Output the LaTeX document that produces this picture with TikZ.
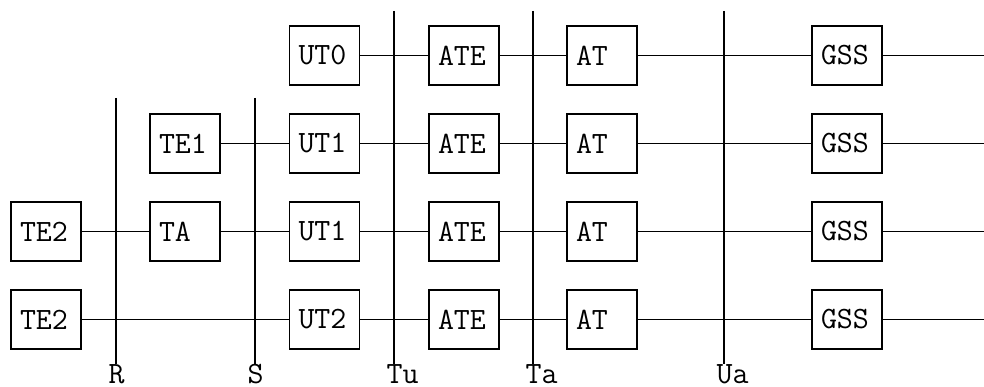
\documentclass[tikz,border=0pt]{standalone}
\usepackage{fontspec}
\begin{document}
\begin{tikzpicture}[x=1pt,y=-1pt,line width=1.3pt,
  blk/.style={draw,rectangle,minimum width=70pt,minimum height=59pt,text width=52pt,inner xsep=9pt,inner ysep=0pt,align=left,font=\ttfamily\fontsize{31}{33}\selectfont},
  lbl/.style={anchor=base west,inner sep=0pt,font=\ttfamily\fontsize{31}{33}\selectfont}]
\useasboundingbox (0,0) rectangle (984,387);
% columns: 46, 185, 324.5, 464, 602, 847 ; rows 55.5, 143.5, 231.5, 319.5
\node[blk] (ut0) at (324.5,55.5) {UT0};
\node[blk] (ate0) at (464,55.5) {ATE};
\node[blk] (at0) at (602,55.5) {AT};
\node[blk] (gss0) at (847,55.5) {GSS};
\coordinate (e0) at (984,55.5);

\node[blk] (te1) at (185,143.5) {TE1};
\node[blk] (ut1) at (324.5,143.5) {UT1};
\node[blk] (ate1) at (464,143.5) {ATE};
\node[blk] (at1) at (602,143.5) {AT};
\node[blk] (gss1) at (847,143.5) {GSS};
\coordinate (e1) at (984,143.5);

\node[blk] (te2a) at (46,231.5) {TE2};
\node[blk] (ta) at (185,231.5) {TA};
\node[blk] (ut1b) at (324.5,231.5) {UT1};
\node[blk] (ate2) at (464,231.5) {ATE};
\node[blk] (at2) at (602,231.5) {AT};
\node[blk] (gss2) at (847,231.5) {GSS};
\coordinate (e2) at (984,231.5);

\node[blk] (te2b) at (46,319.5) {TE2};
\node[blk] (ut2) at (324.5,319.5) {UT2};
\node[blk] (ate3) at (464,319.5) {ATE};
\node[blk] (at3) at (602,319.5) {AT};
\node[blk] (gss3) at (847,319.5) {GSS};
\coordinate (e3) at (984,319.5);

\draw (ut0) -- (ate0) -- (at0) -- (gss0) -- (e0);
\draw (te1) -- (ut1) -- (ate1) -- (at1) -- (gss1) -- (e1);
\draw (te2a) -- (ta) -- (ut1b) -- (ate2) -- (at2) -- (gss2) -- (e2);
\draw (te2b) -- (ut2) -- (ate3) -- (at3) -- (gss3) -- (e3);

% reference lines
\coordinate (rT) at (116,98); \coordinate (rB) at (116,364);
\coordinate (sT) at (255,98); \coordinate (sB) at (255,364);
\coordinate (tuT) at (394,11); \coordinate (tuB) at (394,364);
\coordinate (taT) at (533,11); \coordinate (taB) at (533,364);
\coordinate (uaT) at (724,11); \coordinate (uaB) at (724,364);
\draw (rT) -- (rB);
\draw (sT) -- (sB);
\draw (tuT) -- (tuB);
\draw (taT) -- (taB);
\draw (uaT) -- (uaB);
\node[lbl] (lr) at (107.9,383) {R};
\node[lbl] (ls) at (246.9,383) {S};
\node[lbl] (ltu) at (385.9,383) {Tu};
\node[lbl] (lta) at (524.9,383) {Ta};
\node[lbl] (lua) at (715.9,383) {Ua};
\end{tikzpicture}
\end{document}
